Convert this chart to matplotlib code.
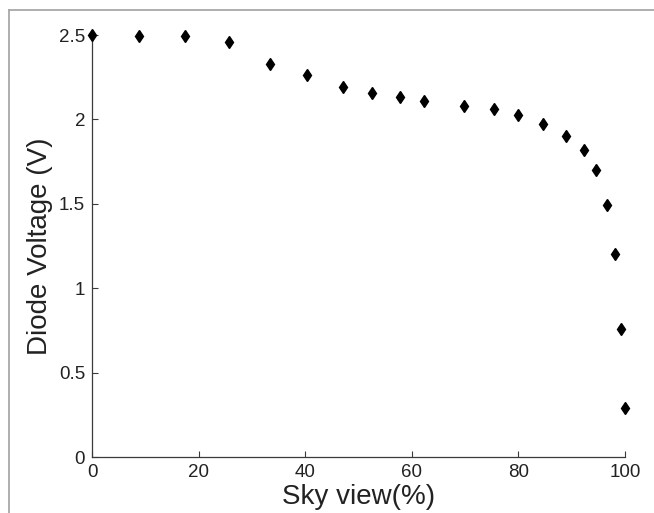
import matplotlib
matplotlib.use("Agg")
import matplotlib.pyplot as plt
from matplotlib.lines import Line2D
from matplotlib.ticker import FormatStrFormatter

plt.rcParams['font.family'] = ['Liberation Sans', 'DejaVu Sans']

sky_view = [0, 8.8, 17.4, 25.7, 33.4, 40.4, 47.0, 52.6, 57.8, 62.3, 69.8,
            75.4, 79.9, 84.7, 88.9, 92.3, 94.6, 96.6, 98.2, 99.2, 100]
diode_voltage = [2.50, 2.495, 2.495, 2.46, 2.33, 2.265, 2.19, 2.155, 2.13,
                 2.11, 2.08, 2.06, 2.025, 1.97, 1.90, 1.82, 1.70, 1.49,
                 1.20, 0.76, 0.29]
x_ticks = [0, 20, 40, 60, 80, 100]
y_ticks = [0, 0.5, 1, 1.5, 2, 2.5]

fig = plt.figure(figsize=(6.54, 5.13), dpi=100)
ax = fig.add_axes([92/654, 56/513, (625-92)/654, (457-35)/513])

ax.plot(sky_view, diode_voltage, linestyle='none', marker='d', color='black',
        markersize=6, clip_on=False, zorder=5)

ax.set_xlim(0, 100)
ax.set_ylim(0, 2.5)
ax.set_xticks(x_ticks)
ax.set_yticks(y_ticks)
ax.yaxis.set_major_formatter(FormatStrFormatter('%g'))
ax.xaxis.set_major_formatter(FormatStrFormatter('%g'))

for s in ['top', 'right']:
    ax.spines[s].set_visible(False)
for s in ['left', 'bottom']:
    ax.spines[s].set_color('#3a3a3a')
    ax.spines[s].set_linewidth(0.9)

ax.tick_params(direction='in', length=4, width=0.8, color='#3a3a3a',
               labelsize=13.5, pad=5, labelcolor='#222222')

ax.set_xlabel('Sky view(%)', fontsize=20, color='#222222', labelpad=2)
ax.set_ylabel('Diode Voltage (V)', fontsize=20, color='#222222', labelpad=4)

# outer screenshot frame lines (top and left)
fig.add_artist(Line2D([9/654, 1], [1 - 10/513, 1 - 10/513], transform=fig.transFigure,
                      color='#a8a8a8', linewidth=1.3))
fig.add_artist(Line2D([9/654, 9/654], [0, 1 - 10/513], transform=fig.transFigure,
                      color='#a8a8a8', linewidth=1.3))

fig.savefig('out.png', dpi=100)
